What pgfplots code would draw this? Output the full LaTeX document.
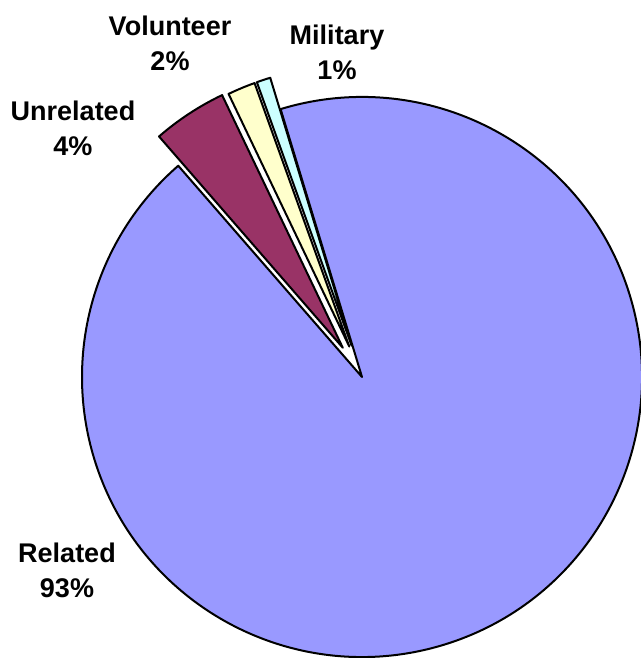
\documentclass[border=0pt]{standalone}
\usepackage{pgfplots}
\pgfplotsset{compat=1.18}
\usepackage{pgfplotstable}
\usepackage{fontspec}
\setmainfont{Liberation Sans}

\definecolor{pie0}{HTML}{9999FF}
\definecolor{pie1}{HTML}{993366}
\definecolor{pie2}{HTML}{FFFFCC}
\definecolor{pie3}{HTML}{CCFFFF}

% share of each slice (percent) and how far it is pulled out (px)
\pgfplotstableread{
name value explode
Related 93.3 0
Unrelated 4.3 35
Volunteer 1.6 33
Military 0.8 33
}\piedata

\begin{document}
\begin{tikzpicture}
\useasboundingbox (0,0) rectangle (640pt,658pt);
\begin{axis}[x=1pt, y=1pt, xmin=0, xmax=640, ymin=0, ymax=658,
  hide axis, clip=false, scale only axis, at={(0,0)}, anchor=south west]
  \def\astart{106.9}
  \pgfplotsforeachungrouped \i in {0,1,2,3}{
    \pgfplotstablegetelem{\i}{value}\of\piedata \let\val\pgfplotsretval
    \pgfplotstablegetelem{\i}{explode}\of\piedata \let\ex\pgfplotsretval
    \pgfmathsetmacro\aend{\astart-3.6*\val}
    \pgfmathsetmacro\amid{(\astart+\aend)/2}
    \pgfmathsetmacro\cx{362+\ex*cos(\amid)}
    \pgfmathsetmacro\cy{281+\ex*sin(\amid)}
    \edef\cmd{\noexpand\filldraw[fill=pie\i, draw=black, line width=2pt, line join=round]
      (axis cs:\cx,\cy) -- ++(\astart:280pt)
      arc[start angle=\astart, end angle=\aend, radius=280pt] -- cycle;}
    \cmd
    \let\astart\aend
  }
  \begin{scope}[every node/.style={align=center, font=\fontsize{27}{35}\selectfont\bfseries}]
    \node at (axis cs:67,88) {Related\\93\%};
    \node at (axis cs:73,529.5) {Unrelated\\4\%};
    \node at (axis cs:170,614.5) {Volunteer\\2\%};
    \node at (axis cs:337,605.5) {Military\\1\%};
  \end{scope}
\end{axis}
\end{tikzpicture}
\end{document}
